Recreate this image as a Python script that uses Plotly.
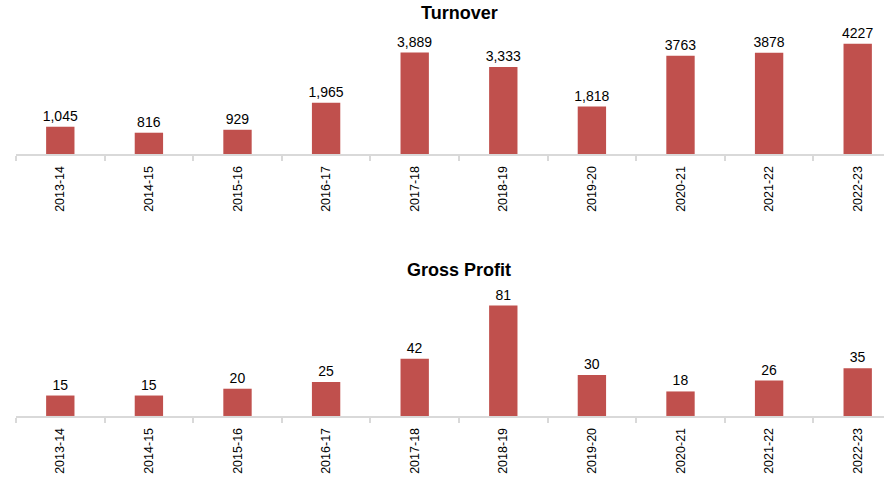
import plotly.graph_objects as go
from plotly.subplots import make_subplots

years = ["2013-14", "2014-15", "2015-16", "2016-17", "2017-18",
         "2018-19", "2019-20", "2020-21", "2021-22", "2022-23"]
turnover = [1045, 816, 929, 1965, 3889, 3333, 1818, 3763, 3878, 4227]
turnover_labels = ["1,045", "816", "929", "1,965", "3,889", "3,333", "1,818", "3763", "3878", "4227"]
gross_profit = [15, 15, 20, 25, 42, 81, 30, 18, 26, 35]

bar_color = "#C0504D"
axis_grey = "#d9d9d9"
font_family = "Liberation Sans, Arial, sans-serif"

fig = make_subplots(rows=2, cols=1)

fig.add_trace(go.Bar(
    x=years, y=turnover, text=turnover_labels, textposition="outside",
    marker=dict(color=bar_color, line=dict(width=0)), width=0.32,
    textfont=dict(size=14, color="black"), cliponaxis=False, constraintext="none",
), row=1, col=1)

fig.add_trace(go.Bar(
    x=years, y=gross_profit, text=[str(v) for v in gross_profit], textposition="outside",
    marker=dict(color=bar_color, line=dict(width=0)), width=0.32,
    textfont=dict(size=14, color="black"), cliponaxis=False, constraintext="none",
), row=2, col=1)

xstyle = dict(
    type="category", showline=True, linecolor=axis_grey, linewidth=2,
    ticks="outside", tickson="boundaries", ticklen=5, tickcolor=axis_grey, tickwidth=2,
    tickangle=-90, ticklabelstandoff=5,
    tickfont=dict(size=12.5, color="black"),
    showgrid=False, domain=[0, 1], automargin=False,
)
fig.update_xaxes(**xstyle)
fig.update_yaxes(visible=False, showgrid=False, zeroline=False, automargin=False)

# the plot area runs past the right edge of the 884px window, as in the original
fig.update_layout(
    width=904, height=482,
    margin=dict(l=16, r=2, t=0, b=0),
    plot_bgcolor="white", paper_bgcolor="white",
    showlegend=False,
    font=dict(family=font_family, color="black"),
    yaxis=dict(domain=[0.6805, 0.9295], range=[0, 4600]),
    yaxis2=dict(domain=[0.137, 0.386], range=[0, 88.1]),
    annotations=[
        dict(text="<b>Turnover</b>", x=0.5, y=1 - 13 / 482, xref="paper", yref="paper",
             showarrow=False, font=dict(size=18), yanchor="middle"),
        dict(text="<b>Gross Profit</b>", x=0.5, y=1 - 270 / 482, xref="paper", yref="paper",
             showarrow=False, font=dict(size=18), yanchor="middle"),
    ],
)

# page body has a default 8px margin; drop it and hide the overflow
fig.write_html(
    "out.html",
    config={"displayModeBar": False},
    post_script="document.body.style.margin='0';document.body.style.overflow='hidden';",
)
